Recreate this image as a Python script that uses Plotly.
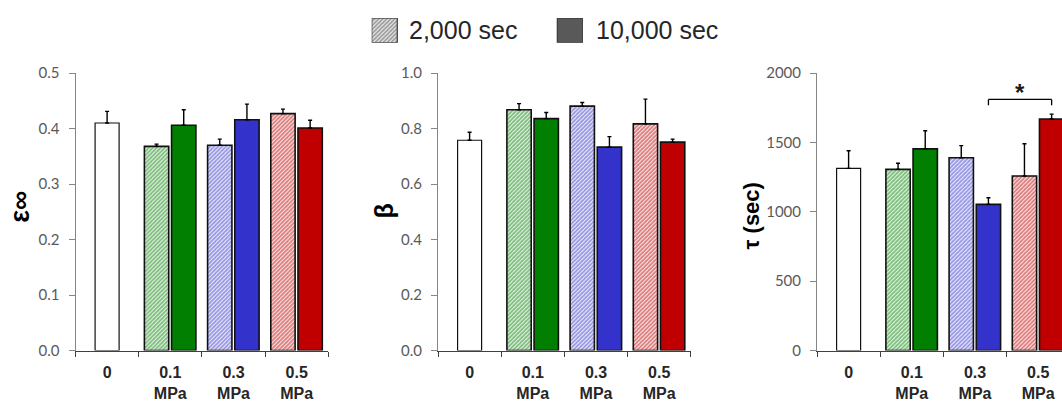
import plotly.graph_objects as go

# ---------------- data ----------------
categories = ["0", "0.1<br>MPa", "0.3<br>MPa", "0.5<br>MPa"]
pressures = ["0.1<br>MPa", "0.3<br>MPa", "0.5<br>MPa"]
pressure_colors = ["#007F00", "#3333CC", "#C00000"]
legend_labels = ["2,000 sec", "10,000 sec"]

eps_ctrl, eps_ctrl_err = 0.410, 0.021
eps_2000 = [0.368, 0.370, 0.427]
eps_2000_err = [0.004, 0.011, 0.008]
eps_10000 = [0.406, 0.416, 0.401]
eps_10000_err = [0.028, 0.028, 0.014]

beta_ctrl, beta_ctrl_err = 0.758, 0.029
beta_2000 = [0.868, 0.881, 0.817]
beta_2000_err = [0.022, 0.013, 0.089]
beta_10000 = [0.836, 0.733, 0.751]
beta_10000_err = [0.022, 0.038, 0.011]

tau_ctrl, tau_ctrl_err = 1313, 127
tau_2000 = [1306, 1390, 1258]
tau_2000_err = [44, 87, 233]
tau_10000 = [1454, 1054, 1669]
tau_10000_err = [130, 47, 35]

# ---------------- layout constants ----------------
W, H = 1062, 404
Y_TOP_PX, Y_BOT_PX = 66, 356.5
CAT_W = 63.2
panel_left_px = [75.5, 438, 817]
panel_ncat = [4, 4, (W - 817) / CAT_W]

BAR_W = 0.385
H_OFF = -0.41
S_OFF = 0.02
C_W = 0.38

EDGE = "#111111"
HATCH = dict(shape="/", bgcolor="white", size=2.83, solidity=0.72)
fig = go.Figure()


def px_x(p):
    return p / W


def px_y(p):
    return (H - p) / H


def add_panel(i, ctrl, ctrl_err, h, h_err, s, s_err):
    xa = "x" if i == 1 else f"x{i}"
    ya = "y" if i == 1 else f"y{i}"
    err_style = dict(type="data", symmetric=False, color="black", thickness=1.4, width=2)
    fig.add_trace(go.Bar(
        x=["0"], y=[ctrl], width=[C_W], offset=-C_W / 2,
        marker=dict(color="white", line=dict(color=EDGE, width=1.2)),
        error_y=dict(array=[ctrl_err], arrayminus=[0], **err_style),
        xaxis=xa, yaxis=ya, showlegend=False))
    # hatch pattern fill
    fig.add_trace(go.Bar(
        x=pressures, y=h, width=[BAR_W] * 3, offset=H_OFF,
        marker=dict(color="white", line=dict(width=0),
                    pattern=dict(fgcolor=pressure_colors, **HATCH)),
        xaxis=xa, yaxis=ya, showlegend=False, hoverinfo="skip"))
    # outline + error bars on top
    fig.add_trace(go.Bar(
        x=pressures, y=h, width=[BAR_W] * 3, offset=H_OFF,
        marker=dict(color="rgba(0,0,0,0)", line=dict(color=EDGE, width=1.6)),
        error_y=dict(array=h_err, arrayminus=[0] * 3, **err_style),
        xaxis=xa, yaxis=ya, showlegend=False))
    fig.add_trace(go.Bar(
        x=pressures, y=s, width=[BAR_W] * 3, offset=S_OFF,
        marker=dict(color=pressure_colors, line=dict(color=EDGE, width=1.6)),
        error_y=dict(array=s_err, arrayminus=[0] * 3, **err_style),
        xaxis=xa, yaxis=ya, showlegend=False))


add_panel(1, eps_ctrl, eps_ctrl_err, eps_2000, eps_2000_err, eps_10000, eps_10000_err)
add_panel(2, beta_ctrl, beta_ctrl_err, beta_2000, beta_2000_err, beta_10000, beta_10000_err)
add_panel(3, tau_ctrl, tau_ctrl_err, tau_2000, tau_2000_err, tau_10000, tau_10000_err)

# legend swatches on a hidden axis
fig.add_trace(go.Bar(
    x=[12.8], y=[1], width=[25.6],
    marker=dict(color="white", line=dict(width=0), pattern=dict(fgcolor="#404040", **HATCH)),
    xaxis="x4", yaxis="y4", showlegend=False, hoverinfo="skip"))
fig.add_trace(go.Bar(
    x=[12.8], y=[1], width=[25.6],
    marker=dict(color="rgba(0,0,0,0)", line=dict(color="#505050", width=1.4)),
    xaxis="x4", yaxis="y4", showlegend=False, hoverinfo="skip"))
fig.add_trace(go.Bar(
    x=[198.5], y=[1], width=[25.6],
    marker=dict(color="#595959", line=dict(color="#404040", width=1.4)),
    xaxis="x4", yaxis="y4", showlegend=False, hoverinfo="skip"))

tick_font_y = dict(family="Lato, Carlito, sans-serif", size=15, color="#595959")
tick_font_x = dict(family="Liberation Sans, Arial, sans-serif", size=16, color="#262626", weight="bold")

y_ranges = [[0, 0.5], [0, 1.0], [0, 2000]]
y_dticks = [0.1, 0.2, 500]
y_formats = [".1f", ".1f", "d"]

layout = dict(
    width=W, height=H, margin=dict(l=0, r=0, t=0, b=0),
    paper_bgcolor="white", plot_bgcolor="white",
    barmode="overlay", showlegend=False,
)
for i in range(3):
    suffix = "" if i == 0 else str(i + 1)
    left = panel_left_px[i]
    right = min(left + panel_ncat[i] * CAT_W, W)
    layout["xaxis" + suffix] = dict(
        domain=[px_x(left), px_x(right)], anchor="y" + suffix,
        type="category", categoryorder="array", categoryarray=categories,
        range=[-0.5, -0.5 + panel_ncat[i]],
        showline=True, linecolor="#404040", linewidth=1.3,
        ticks="outside", tickson="boundaries", ticklen=5, tickcolor="#404040", tickwidth=1,
        ticklabelstandoff=7,
        showgrid=False, zeroline=False, tickfont=tick_font_x, fixedrange=True,
    )
    layout["yaxis" + suffix] = dict(
        domain=[px_y(Y_BOT_PX), px_y(Y_TOP_PX)], anchor="x" + suffix,
        range=y_ranges[i], dtick=y_dticks[i], tickformat=y_formats[i],
        showline=True, linecolor="#868686", linewidth=1,
        ticks="outside", ticklen=6, tickcolor="#868686",
        ticklabelstandoff=6,
        showgrid=False, zeroline=False, tickfont=tick_font_y, fixedrange=True,
    )

layout["xaxis4"] = dict(domain=[px_x(371.7), px_x(583.0)], anchor="y4", range=[0, 211.3],
                        visible=False, fixedrange=True)
layout["yaxis4"] = dict(domain=[px_y(34.3), px_y(8.3)], anchor="x4", range=[0, 1],
                        visible=False, fixedrange=True)

fig.update_layout(**layout)

# legend texts
legend_font = dict(family="Liberation Sans, Arial, sans-serif", size=25, color="#262626")
for label, xpx in zip(legend_labels, [407, 594]):
    fig.add_annotation(x=px_x(xpx), y=px_y(21), xref="paper", yref="paper", text=label,
                       showarrow=False, xanchor="left", yanchor="middle", font=legend_font)

# y-axis titles
title_font = dict(family="Liberation Sans, Arial, sans-serif", color="black", weight="bold")
for text, xpx, ypx, size in [("ε∞", 20, 206, 27), ("β", 384, 211, 25), ("τ (sec)", 751, 216, 22)]:
    fig.add_annotation(x=px_x(xpx), y=px_y(ypx), xref="paper", yref="paper", text=text,
                       textangle=-90, showarrow=False, xanchor="center", yanchor="middle",
                       font=dict(size=size, **title_font))

# significance bracket between the 10,000 sec bars of 0.3 and 0.5 MPa
s_center = S_OFF + BAR_W / 2
bx0 = categories.index("0.3<br>MPa") + s_center
bx1 = categories.index("0.5<br>MPa") + s_center
top, leg = 1810, 1768
line = dict(color="black", width=1.3)
for (x0, y0, x1, y1) in [(bx0, leg, bx0, top), (bx0, top, bx1, top), (bx1, top, bx1, leg)]:
    fig.add_shape(type="line", xref="x3", yref="y3", x0=x0, y0=y0, x1=x1, y1=y1, line=line)
fig.add_annotation(x=(bx0 + bx1) / 2, y=1862, xref="x3", yref="y3", text="<b>*</b>", showarrow=False,
                   font=dict(family="Liberation Sans, Arial, sans-serif", size=24, color="#1a1a1a"),
                   yanchor="middle")

fig.write_html("out.html")
